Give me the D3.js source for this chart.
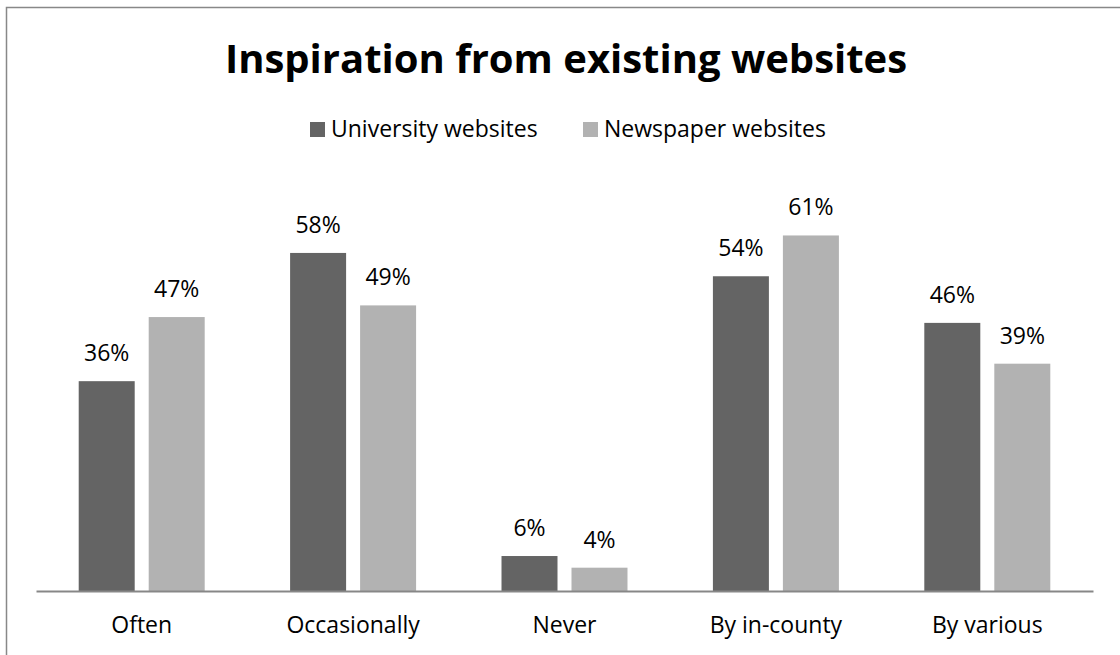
<!DOCTYPE html>
<html>
<head>
<meta charset="utf-8">
<script src="https://cdn.jsdelivr.net/npm/d3@7"></script>
<style>
  body { margin: 0; background: #fff; }
  svg { display: block; font-family: "Open Sans", sans-serif; }
</style>
</head>
<body>
<svg width="1120" height="655"></svg>
<script>
// data
var categories = ['Often', 'Occasionally', 'Never', 'By in-county', 'By various']
var seriesNames = ['University websites', 'Newspaper websites']
var university = [0.36, 0.58, 0.06, 0.54, 0.46]
var newspaper = [0.47, 0.49, 0.04, 0.61, 0.39]
var colors = ['#646464', '#b2b2b2']

var svg = d3.select('svg')

// chart frame (runs off the right and bottom edge)
svg.append('rect')
    .attr('x', 6.5)
    .attr('y', 7.5)
    .attr('width', 1130)
    .attr('height', 660)
    .attr('fill', 'none')
    .attr('stroke', '#888')
    .attr('stroke-width', 1.5)

var baseY = 591

var x0 = d3.scaleBand()
    .domain(categories)
    .range([36, 1093])

var x1 = d3.scaleBand()
    .domain(seriesNames)
    .range([x0.bandwidth() * 0.202, x0.bandwidth() * 0.798])
    .paddingInner(0.2)
    .paddingOuter(0)

var y = d3.scaleLinear()
    .domain([0, 0.7])
    .range([baseY, 183])

var rows = categories.map(function(c, i) {
    return { cat: c, values: [university[i], newspaper[i]] }
})

var groups = svg.selectAll('g.cat')
    .data(rows)
    .enter()
    .append('g')
    .attr('class', 'cat')
    .attr('transform', function(d) { return 'translate(' + x0(d.cat) + ',0)' })

groups.selectAll('rect')
    .data(function(d) {
        return d.values.map(function(v, j) { return { name: seriesNames[j], v: v, j: j } })
    })
    .enter()
    .append('rect')
    .attr('x', function(d) { return x1(d.name) })
    .attr('width', x1.bandwidth())
    .attr('y', function(d) { return y(d.v) })
    .attr('height', function(d) { return baseY - y(d.v) })
    .attr('fill', function(d) { return colors[d.j] })

groups.selectAll('text.val')
    .data(function(d) {
        return d.values.map(function(v, j) { return { name: seriesNames[j], v: v } })
    })
    .enter()
    .append('text')
    .attr('class', 'val')
    .attr('x', function(d) { return x1(d.name) + x1.bandwidth() / 2 })
    .attr('y', function(d) { return y(d.v) - 20 })
    .attr('text-anchor', 'middle')
    .attr('font-size', 23)
    .attr('fill', '#000')
    .text(function(d) { return d3.format('.0%')(d.v) })

// x axis
var xAxis = svg.append('g')
    .attr('transform', 'translate(0,' + baseY + ')')
    .call(d3.axisBottom(x0).tickSize(0).tickPadding(20))
xAxis.select('.domain').attr('stroke', '#878787').attr('stroke-width', 2)
xAxis.selectAll('text')
    .attr('font-family', '"Open Sans", sans-serif')
    .attr('font-size', 23)
    .attr('fill', '#000')
    .attr('dy', 0)
    .attr('y', 42)

// title
svg.append('text')
    .attr('x', 566)
    .attr('y', 73)
    .attr('text-anchor', 'middle')
    .attr('font-size', 40)
    .attr('font-weight', 'bold')
    .text('Inspiration from existing websites')

// legend
var legendX = [310, 583]
var legend = svg.selectAll('g.leg')
    .data(seriesNames)
    .enter()
    .append('g')
    .attr('class', 'leg')
    .attr('transform', function(d, i) { return 'translate(' + legendX[i] + ',0)' })
legend.append('rect')
    .attr('y', 122)
    .attr('width', 15)
    .attr('height', 15)
    .attr('fill', function(d, i) { return colors[i] })
legend.append('text')
    .attr('x', 21)
    .attr('y', 137)
    .attr('font-size', 23)
    .text(function(d) { return d })
</script>
</body>
</html>
